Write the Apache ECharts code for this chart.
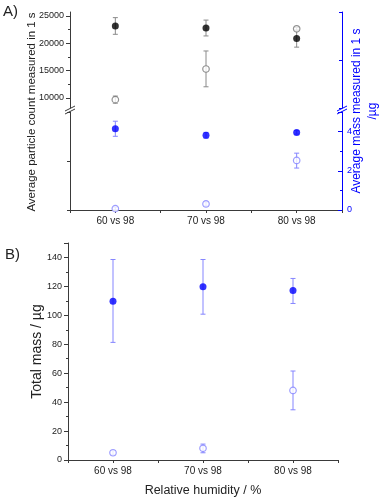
<!DOCTYPE html>
<html>
<head>
<meta charset="utf-8">
<script src="https://cdn.jsdelivr.net/npm/echarts@6/dist/echarts.min.js"></script>
<style>
  html, body { margin: 0; padding: 0; background: #fff; }
  #chart { width: 387px; height: 501px; }
</style>
</head>
<body>
<div id="chart"></div>
<script>
// categories on the x axis (placed at 1, 2, 3)
const categories = ['60 vs 98', '70 vs 98', '80 vs 98'];

// A) particle count (left axis, upper part)
const countFilled = [23150, 22800, 20900];
const countFilledErr = [[21650, 24700], [21350, 24250], [19300, 22400]];
const countOpen = [9700, 15300, 22650];
const countOpenErr = [[9050, 10350], [12050, 18600], [22400, 22900]];

// A) mass in 1 s (right axis, lower part)
const massFilled = [4.15, 3.81, 3.96];
const massFilledErr = [[3.76, 4.53], [3.66, 3.96], [3.87, 4.05]];
const massOpen = [0.07, 0.31, 2.53];
const massOpenErr = [[0.0, 0.15], [0.21, 0.41], [2.14, 2.9]];

// B) total mass
const totalFilled = [109.8, 119.7, 117.2];
const totalFilledErr = [[81.3, 138.6], [100.8, 138.6], [108.2, 125.5]];
const totalOpen = [5.0, 8.1, 48.1];
const totalOpenErr = [[3.5, 6.5], [5.0, 11.0], [34.7, 61.5]];

// tick labels
const countTicks = [10000, 15000, 20000, 25000];
const countMinorTicks = [12500, 17500, 22500];

// layout
const L = 70, R = 342, TOP_A = 12, BRK = 110, BOT_A = 210;

const BLUE = '#0000ff', LBLUE = '#8585ff', GREY = '#8a8a8a', AXIS = '#3a3a3a';

function pts(vals) { return vals.map((v, i) => [i + 1, v]); }
function errs(arr) { return arr.map((e, i) => [i + 1, e[0], e[1]]); }

function errSeries(arr, color, xi, yi) {
  return {
    type: 'custom', xAxisIndex: xi, yAxisIndex: yi, z: 1,
    data: errs(arr), encode: { x: 0, y: [1, 2] },
    renderItem: function (params, api) {
      const x = api.value(0);
      const lo = api.coord([x, api.value(1)]);
      const hi = api.coord([x, api.value(2)]);
      const w = 2.5;
      const st = { stroke: color, lineWidth: 1 };
      return {
        type: 'group', children: [
          { type: 'line', shape: { x1: lo[0], y1: lo[1], x2: hi[0], y2: hi[1] }, style: st },
          { type: 'line', shape: { x1: lo[0] - w, y1: lo[1], x2: lo[0] + w, y2: lo[1] }, style: st },
          { type: 'line', shape: { x1: hi[0] - w, y1: hi[1], x2: hi[0] + w, y2: hi[1] }, style: st }
        ]
      };
    }
  };
}

function dotSeries(vals, filled, color, xi, yi) {
  return {
    type: 'scatter', xAxisIndex: xi, yAxisIndex: yi, z: 3,
    data: pts(vals), symbol: 'circle', symbolSize: filled ? 7 : 6.5,
    itemStyle: filled ? { color: color } : { color: '#fff', borderColor: color, borderWidth: 1.2 }
  };
}

const xBase = {
  type: 'value', min: 0.5, max: 3.5, interval: 0.5,
  splitLine: { show: false },
  axisLine: { lineStyle: { color: AXIS } },
  axisTick: { length: 3, lineStyle: { color: AXIS } },
  axisLabel: {
    color: '#222', fontSize: 10, fontFamily: 'Liberation Sans', margin: 6,
    formatter: v => Number.isInteger(v) && v >= 1 && v <= 3 ? categories[v - 1] : ''
  }
};

function breakMark(x, y, color) {
  return [
    { type: 'line', shape: { x1: x - 5, y1: y + 1, x2: x + 5, y2: y - 4 }, style: { stroke: color, lineWidth: 1 } },
    { type: 'line', shape: { x1: x - 5, y1: y + 4, x2: x + 5, y2: y - 1 }, style: { stroke: color, lineWidth: 1 } }
  ];
}

const chart = echarts.init(document.getElementById('chart'), null, { renderer: 'canvas' });

const option = {
  animation: false,
  backgroundColor: '#fff',
  grid: [
    { left: L, right: 387 - R, top: TOP_A, height: BRK - 2 - TOP_A },
    { left: L, right: 387 - R, top: BRK + 2, height: BOT_A - BRK - 2 },
    { left: 68, right: 49, top: 243, bottom: 41 }
  ],
  xAxis: [
    Object.assign({}, xBase, { gridIndex: 0, show: false }),
    Object.assign({}, xBase, { gridIndex: 1 }),
    Object.assign({}, xBase, {
      gridIndex: 2,
      name: 'Relative humidity / %', nameLocation: 'middle', nameGap: 24,
      nameTextStyle: { color: '#222', fontSize: 12.5, fontFamily: 'Liberation Sans' }
    })
  ],
  yAxis: [
    { // 0: particle count
      type: 'value', gridIndex: 0, position: 'left', min: 8170, max: 25730,
      splitLine: { show: false },
      axisLine: { show: true, lineStyle: { color: AXIS } },
      axisTick: { show: true, length: 4, customValues: countTicks, lineStyle: { color: AXIS } },
      axisLabel: { customValues: countTicks, formatter: v => String(v),
        color: '#222', fontSize: 9, fontFamily: 'Liberation Sans', margin: 6 }
    },
    { // 1: minor ticks on particle count axis
      type: 'value', gridIndex: 0, position: 'left', min: 8170, max: 25730,
      splitLine: { show: false },
      axisLine: { show: false },
      axisTick: { show: true, length: 2, customValues: countMinorTicks, lineStyle: { color: AXIS } },
      axisLabel: { show: false }
    },
    { // 2: right axis, upper part (no labels)
      type: 'value', gridIndex: 0, position: 'right', min: 0, max: 1, interval: 0.5,
      splitLine: { show: false },
      axisLine: { show: true, lineStyle: { color: BLUE } },
      axisTick: { show: true, inside: true, length: 3, lineStyle: { color: BLUE } },
      axisLabel: { show: false }
    },
    { // 3: left axis, lower part (no labels)
      type: 'value', gridIndex: 1, position: 'left', min: 0, max: 1, interval: 0.5,
      splitLine: { show: false },
      axisLine: { show: true, lineStyle: { color: AXIS } },
      axisTick: { show: true, length: 3, lineStyle: { color: AXIS } },
      axisLabel: { show: false }
    },
    { // 4: mass in 1 s
      type: 'value', gridIndex: 1, position: 'right', min: 0, max: 5, interval: 2,
      splitLine: { show: false },
      axisLine: { show: true, lineStyle: { color: BLUE } },
      axisTick: { show: true, inside: true, length: 4, lineStyle: { color: BLUE } },
      minorTick: { show: true, splitNumber: 2, length: 2, lineStyle: { color: BLUE } },
      axisLabel: { showMaxLabel: false, color: BLUE, fontSize: 9, fontFamily: 'Liberation Sans', margin: 5 }
    },
    { // 5: total mass
      type: 'value', gridIndex: 2, position: 'left', min: 0, max: 150, interval: 20,
      splitLine: { show: false },
      axisLine: { show: true, lineStyle: { color: AXIS } },
      axisTick: { show: true, length: 4, lineStyle: { color: AXIS } },
      minorTick: { show: true, splitNumber: 2, length: 2, lineStyle: { color: AXIS } },
      axisLabel: { showMaxLabel: false, color: '#222', fontSize: 9, fontFamily: 'Liberation Sans', margin: 6 },
      name: 'Total mass / µg', nameLocation: 'middle', nameGap: 24, nameMoveOverlap: false,
      nameTextStyle: { color: '#222', fontSize: 14, fontFamily: 'Liberation Sans' }
    }
  ],
  graphic: [
    { type: 'text', left: 3, top: 4, style: { text: 'A)', fontSize: 15, fill: '#222', fontFamily: 'Liberation Sans' } },
    { type: 'text', left: 5, top: 247, style: { text: 'B)', fontSize: 15, fill: '#222', fontFamily: 'Liberation Sans' } },
    {
      type: 'text', x: 32, y: (TOP_A + BOT_A) / 2 + 1, rotation: Math.PI / 2,
      style: { text: 'Average particle count measured in 1 s', fontSize: 11.5, fill: '#222',
        fontFamily: 'Liberation Sans', align: 'center', verticalAlign: 'middle' }
    },
    {
      type: 'text', x: 365, y: (TOP_A + BOT_A) / 2, rotation: Math.PI / 2,
      style: { text: 'Average mass measured in 1 s\n/µg', fontSize: 12, lineHeight: 16, fill: BLUE,
        fontFamily: 'Liberation Sans', align: 'center', verticalAlign: 'middle' }
    }
  ].concat(breakMark(L, BRK, AXIS), breakMark(R, BRK, BLUE)),
  series: [
    errSeries(countFilledErr, GREY, 0, 0),
    errSeries(countOpenErr, GREY, 0, 0),
    dotSeries(countFilled, true, '#000', 0, 0),
    dotSeries(countOpen, false, '#777', 0, 0),

    errSeries(massFilledErr, LBLUE, 1, 4),
    errSeries(massOpenErr, LBLUE, 1, 4),
    dotSeries(massFilled, true, BLUE, 1, 4),
    dotSeries(massOpen, false, LBLUE, 1, 4),

    errSeries(totalFilledErr, LBLUE, 2, 5),
    errSeries(totalOpenErr, LBLUE, 2, 5),
    dotSeries(totalFilled, true, BLUE, 2, 5),
    dotSeries(totalOpen, false, LBLUE, 2, 5)
  ]
};

chart.setOption(option);
</script>
</body>
</html>
